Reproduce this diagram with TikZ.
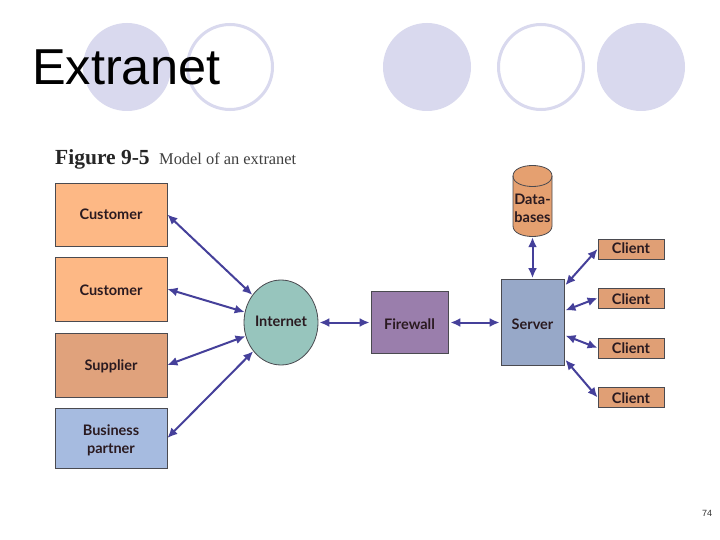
\documentclass[tikz,border=0pt]{standalone}
\usepackage{fontspec}
\setmainfont{Liberation Sans}
\newfontfamily\lblfont{Lato}
\newfontfamily\capfont{Liberation Serif}
\usetikzlibrary{calc,shapes.geometric,arrows.meta}
\definecolor{lav}{HTML}{D9D9EE}
\definecolor{cust}{HTML}{FDB885}
\definecolor{supp}{HTML}{E0A27C}
\definecolor{biz}{HTML}{A6BBE0}
\definecolor{inet}{HTML}{97C5BD}
\definecolor{fwall}{HTML}{9A7EAC}
\definecolor{serv}{HTML}{97A8C8}
\definecolor{clnt}{HTML}{E09F75}
\definecolor{dbc}{HTML}{E5A070}
\definecolor{arr}{HTML}{45409A}
\definecolor{edgec}{HTML}{4A4A50}
\definecolor{ink}{HTML}{2A1A20}
\newcommand{\lowered}[2]{\raisebox{-#1pt}[0pt][0pt]{#2}}
\tikzset{
  disc/.style={circle,fill=lav,minimum size=88pt,inner sep=0pt},
  ring/.style={circle,draw=lav,line width=3pt,fill=white,minimum size=85pt,inner sep=0pt},
  boxa/.style={rectangle,draw=edgec,line width=0.8pt,inner sep=0pt,align=center,font=\lblfont\bfseries\fontsize{14.5}{18}\selectfont,text=ink},
  link/.style={arr,line width=2pt,{Latex[length=10pt,width=9pt]}-{Latex[length=10pt,width=9pt]}},
  pagenum/.style={font=\fontsize{9}{11}\selectfont,text=black!80}
}
\begin{document}
\begin{tikzpicture}[x=1pt,y=-1pt]
\useasboundingbox (0,0) rectangle (720,540);
\fill[white] (0,0) rectangle (720,540);
\node[disc] (d1) at (127,67) {};
\node[ring] (r1) at (230,67) {};
\node[disc] (d2) at (427,67) {};
\node[ring] (r2) at (541,67) {};
\node[disc] (d3) at (641,67) {};
\node[anchor=west,inner sep=0pt,font=\fontsize{50.5}{60}\selectfont,text=black] (title) at (32,67) {Extranet};
\node[anchor=base west,inner sep=0pt,font=\capfont\bfseries\fontsize{21.5}{24}\selectfont,text=black!85] (figno) at (55,165) {Figure 9-5};
\node[anchor=base west,inner sep=0pt,font=\capfont\fontsize{16.4}{20}\selectfont,text=black!75] (figcap) at (159,165) {Model of an extranet};

\node[boxa,fill=cust,minimum width=112pt,minimum height=63pt] (c1) at (111,214.5) {\lowered{4.8}{Customer}};
\node[boxa,fill=cust,minimum width=112pt,minimum height=64pt] (c2) at (111,289) {\lowered{6}{Customer}};
\node[boxa,fill=supp,minimum width=112pt,minimum height=64pt] (s1) at (111,365) {\lowered{5.7}{Supplier}};
\node[boxa,fill=biz,minimum width=112pt,minimum height=60pt] (b1) at (111,438) {\lowered{6}{Business}\\\lowered{6}{partner}};
\node[ellipse,draw=edgec,line width=0.8pt,fill=inet,minimum width=74pt,minimum height=85pt,inner sep=0pt,font=\lblfont\bfseries\fontsize{14.5}{18}\selectfont,text=ink] (inet) at (281,322.5) {\lowered{4.2}{Internet}};
\node[boxa,fill=fwall,minimum width=77pt,minimum height=62pt] (fw) at (409.5,322.5) {\lowered{6.5}{Firewall}};
\node[boxa,fill=serv,minimum width=63pt,minimum height=86pt] (srv) at (532.5,322.5) {\lowered{6.5}{Server}};
\node[boxa,fill=clnt,minimum width=66pt,minimum height=20pt] (k1) at (631,249) {\lowered{5}{Client}};
\node[boxa,fill=clnt,minimum width=66pt,minimum height=20pt] (k2) at (631,298) {\lowered{6}{Client}};
\node[boxa,fill=clnt,minimum width=66pt,minimum height=20pt] (k3) at (631,348) {\lowered{5.3}{Client}};
\node[boxa,fill=clnt,minimum width=66pt,minimum height=20pt] (k4) at (631,397.5) {\lowered{5.8}{Client}};

\draw[edgec,line width=0.8pt,fill=dbc] (513,176) -- (513,226)
  .. controls (513,240) and (552,240) .. (552,226) -- (552,176)
  .. controls (552,162) and (513,162) .. (513,176) -- cycle;
\draw[edgec,line width=0.8pt] (513,176) .. controls (513,190) and (552,190) .. (552,176);
\node[inner sep=0pt,align=center,font=\lblfont\bfseries\fontsize{14.5}{17.5}\selectfont,text=ink,minimum width=39pt,minimum height=70pt] (db) at (532.5,201) {\lowered{12.7}{Data-}\\\lowered{12.7}{bases}};

\draw[link] (c1.east) -- (inet.136);
\draw[link] (c2.east) -- (inet.164);
\draw[link] (s1.east) -- (inet.201);
\draw[link] (b1.east) -- (inet.226);
\draw[link,shorten <=1pt,shorten >=1pt] (inet.east) -- (fw.west);
\draw[link,shorten <=2pt,shorten >=1pt] (fw.east) -- (srv.west);
\draw[link,shorten <=1pt,shorten >=1pt] (db.south) -- (srv.north);
\draw[link] (k1.west) -- ($(srv.north east)!0.07!(srv.south east)+(1,0)$);
\draw[link] (k2.west) -- ($(srv.north east)!0.36!(srv.south east)+(1,0)$);
\draw[link] (k3.west) -- ($(srv.north east)!0.65!(srv.south east)+(1,0)$);
\draw[link] (k4.west) -- ($(srv.north east)!0.93!(srv.south east)+(1,0)$);
\node[pagenum] (pg) at (707,513) {74};
\end{tikzpicture}
\end{document}
